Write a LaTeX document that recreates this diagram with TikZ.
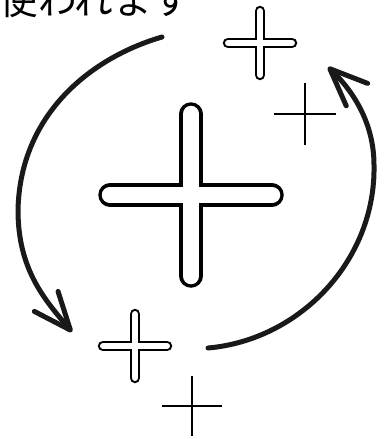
\documentclass[tikz,border=0pt]{standalone}
\usepackage{fontspec}
\newfontfamily\jpfont{Noto Sans CJK JP}
\usetikzlibrary{arrows.meta}

\begin{document}
\begin{tikzpicture}[x=0.02cm,y=-0.02cm,
    cycle arrow/.style={line width=0.1cm, line cap=round, draw=black!90,
        -{Straight Barb[length=0.75cm,width=0.62cm,round]}},
    thin plus/.style={line width=0.03cm}]
    % Frame
    \useasboundingbox (0,0) rectangle (387,439);

    % Caption, cut at the top edge
    \node[anchor=base west, inner sep=0pt,
        font=\jpfont\fontsize{22pt}{22pt}\selectfont] (caption) at (-1,15) {使われます};

    % Hollow plus signs: centre x / centre y / half arm / outer / inner width
    \foreach \cx/\cy/\r/\wo/\wi in {191/195/81/0.47cm/0.33cm,
                                    260/43/32/0.21cm/0.12cm,
                                    135/346/32/0.21cm/0.12cm} {
        \draw[line width=\wo, line cap=round]
            (\cx-\r,\cy) -- (\cx+\r,\cy) (\cx,\cy-\r) -- (\cx,\cy+\r);
        \draw[white, line width=\wi, line cap=round]
            (\cx-\r,\cy) -- (\cx+\r,\cy) (\cx,\cy-\r) -- (\cx,\cy+\r);
    }

    % Thin plus signs
    \draw[thin plus] (274,114) -- (336,114) (305,83) -- (305,145);
    \draw[thin plus] (162,406) -- (222,406) (192,376) -- (192,436);

    % Left arrow, going down
    \draw[cycle arrow] (162,37) .. controls (90,58) and (20,115) .. (18,210)
        .. controls (18,270) and (45,300) .. (72,332);

    % Right arrow, going up
    \draw[cycle arrow] (208,348) .. controls (300,340) and (376,260) .. (374,165)
        .. controls (374,120) and (350,88) .. (328,67);
\end{tikzpicture}
\end{document}
